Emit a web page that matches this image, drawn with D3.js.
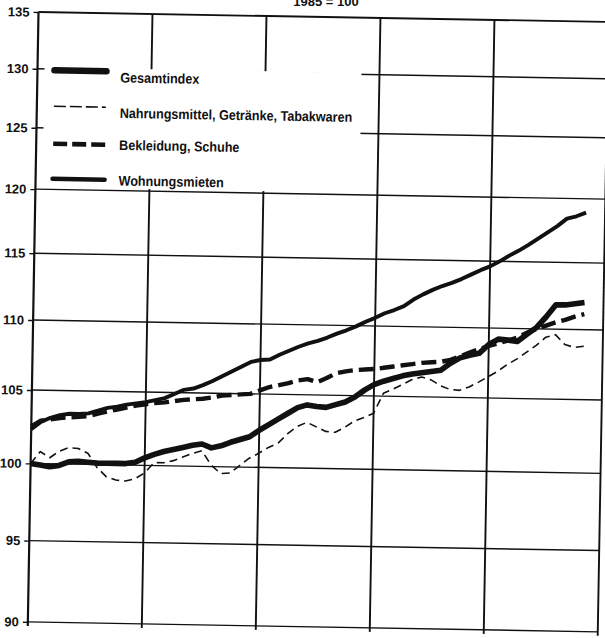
<!DOCTYPE html>
<html><head><meta charset="utf-8">
<script src="https://cdn.jsdelivr.net/npm/d3@7"></script>
<style>
html,body{margin:0;padding:0;background:#fff;}
svg{display:block;}
.tick-label{font-family:"Liberation Sans",Arial,sans-serif;font-weight:bold;font-size:13px;fill:#111;}
.leg{font-family:"Liberation Sans",Arial,sans-serif;font-weight:bold;font-size:14px;fill:#111;}
</style></head>
<body>
<svg id="c" width="605" height="638"></svg>
<script>
// ---- data (monthly index values, 1985 = 100) ----
const months = d3.range(0, 59);
const yTicks = [90, 95, 100, 105, 110, 115, 120, 125, 130, 135];
const xGrid = [0, 12, 24, 36, 48, 60];
const seriesNames = ["Gesamtindex", "Nahrungsmittel, Getränke, Tabakwaren", "Bekleidung, Schuhe", "Wohnungsmieten"];
const titleText = "1985 = 100";

const gesamt = [100.0,99.9,99.8,99.9,100.15,100.2,100.15,100.1,100.1,100.1,100.1,100.2,
  100.5,100.75,100.95,101.1,101.25,101.4,101.5,101.25,101.4,101.65,101.85,102.05,
  102.5,102.9,103.3,103.7,104.1,104.3,104.2,104.15,104.35,104.55,104.9,105.4,
  105.8,106.05,106.25,106.45,106.6,106.7,106.8,106.9,107.4,107.8,108.0,108.15,
  108.8,109.2,109.15,109.05,109.6,110.1,110.9,111.8,111.8,111.9,112.0];
const nahrung = [100.0,100.8,100.4,100.85,101.1,101.05,100.75,99.8,99.2,99.0,98.95,99.1,
  99.5,100.2,100.2,100.35,100.6,100.85,101.05,100.1,99.55,99.6,100.1,100.6,
  100.95,101.35,101.65,102.3,102.8,103.1,102.8,102.5,102.45,102.8,103.25,103.5,
  103.8,105.2,105.5,105.85,106.2,106.4,106.2,105.8,105.55,105.5,105.75,106.1,
  106.5,106.9,107.4,107.8,108.3,108.8,109.4,109.6,108.9,108.7,108.8];
const bekleidung = [102.5,102.9,103.0,103.1,103.15,103.2,103.25,103.45,103.6,103.75,103.9,104.05,
  104.15,104.25,104.3,104.4,104.5,104.55,104.6,104.7,104.85,104.9,104.95,105.0,
  105.25,105.5,105.65,105.8,106.0,106.1,105.9,106.2,106.55,106.7,106.8,106.85,
  106.9,107.0,107.1,107.2,107.3,107.4,107.45,107.5,107.65,107.9,108.2,108.45,
  108.7,108.9,109.1,109.35,109.7,110.0,110.25,110.5,110.7,110.95,111.15];
const wohnung = [102.3,102.8,103.1,103.3,103.4,103.4,103.45,103.65,103.85,103.95,104.1,104.2,
  104.3,104.45,104.6,104.9,105.2,105.3,105.55,105.85,106.2,106.55,106.9,107.25,
  107.4,107.45,107.8,108.1,108.4,108.65,108.85,109.1,109.4,109.65,109.95,110.3,
  110.6,110.95,111.2,111.5,112.0,112.4,112.75,113.05,113.3,113.6,113.95,114.3,
  114.6,115.0,115.45,115.85,116.3,116.8,117.3,117.8,118.4,118.6,118.9];

// ---- layout ----
const W = 570, H = 610;
const ink = "#111";
const svg = d3.select("#c");

svg.append("text").attr("class","tick-label").attr("x",326).attr("y",6)
  .attr("text-anchor","middle").text(titleText);

const g = svg.append("g").attr("transform","translate(38.5,12) rotate(1)");

const x = d3.scaleLinear().domain([0,60]).range([0,W]);
const y = d3.scaleLog().domain([90,135]).range([H,0]);

// horizontal grid lines
g.append("g").selectAll("line").data(yTicks).join("line")
  .attr("x1",0).attr("x2",W).attr("y1",d=>y(d)).attr("y2",d=>y(d))
  .attr("stroke",ink).attr("stroke-width",d=>d===135?1.8:1.4);
// vertical grid lines
g.append("g").selectAll("line").data(xGrid).join("line")
  .attr("x1",d=>x(d)).attr("x2",d=>x(d)).attr("y1",0).attr("y2",H+4)
  .attr("stroke",ink).attr("stroke-width",d=>d===0?2.2:1.9);

// y axis labels with ticks
const yAxis = d3.axisLeft(y).tickValues(yTicks).tickSize(5).tickPadding(4).tickFormat(d3.format("d"));
const ax = g.append("g").call(yAxis);
ax.select(".domain").remove();
ax.selectAll(".tick line").attr("stroke",ink).attr("stroke-width",1.4);
ax.selectAll(".tick text").attr("class","tick-label").attr("fill",ink).attr("font-size",null).attr("font-family",null);

// legend background (covers grid lines)
g.append("rect").attr("x",7).attr("y",y(130)-1.5).attr("width",317).attr("height",y(120)-y(130)-0.5)
  .attr("fill","#fff");

// lines
const line = d3.line().x((d,i)=>x(months[i])).y(d=>y(d)).curve(d3.curveLinear);
const styles = [
  {data:gesamt, w:5.6, dash:null},
  {data:nahrung, w:1.6, dash:"8,5"},
  {data:bekleidung, w:4.4, dash:"15,6"},
  {data:wohnung, w:3.9, dash:null}
];
const drawOrder = [3,2,1,0];
g.append("g").selectAll("path").data(drawOrder.map(i=>styles[i])).join("path")
  .attr("d",s=>line(s.data)).attr("fill","none").attr("stroke",ink)
  .attr("stroke-width",s=>s.w).attr("stroke-dasharray",s=>s.dash)
  .attr("stroke-linejoin","round").attr("stroke-linecap","butt");

// legend
const legY = [58, 94, 131.5, 166.5];
const legText = [69, 104.5, 136.5, 172];
const lg = g.append("g");
styles.forEach((s,i)=>{
  lg.append("line").attr("x1",17).attr("x2",69).attr("y1",legY[i]).attr("y2",legY[i])
    .attr("stroke",ink).attr("stroke-width",i===0?6.5:(i===1?1.6:4.6))
    .attr("stroke-dasharray",i===1?"12,4":(i===2?"14,5":null))
    .attr("stroke-linecap",i===0||i===3?"round":"butt");
  lg.append("text").attr("class","leg")
    .attr("transform",`translate(83,${legText[i]}) scale(0.9,1)`).text(seriesNames[i]);
});
</script>
</body></html>
